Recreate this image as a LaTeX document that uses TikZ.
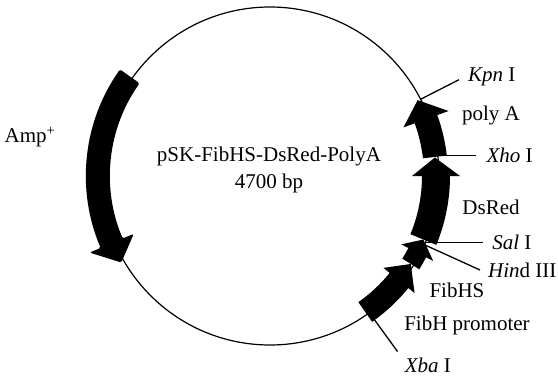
\documentclass[tikz,border=0pt]{standalone}
\usepackage{fontspec}
\setmainfont{Liberation Serif}
\usepackage{tikz}
\usetikzlibrary{calc}
\usetikzlibrary{positioning}

\begin{document}
\begin{tikzpicture}[x=1pt, y=1pt,
	lbl/.style={font=\fontsize{21}{27}\selectfont, inner sep=0pt},
	site/.style={line width=1.3pt},
	gene/.style={fill=black}]

\useasboundingbox (0,0) rectangle (558,376);

%%\draw[step=10, gray, very thin] (0,0) grid (558,376);

\node at (270,200) [circle, draw=black, line width=1.2pt, minimum size=338pt, inner sep=0pt] (plasmid) {};
\node at (269,206) [lbl, align=center] (name) {pSK-FibHS-DsRed-PolyA\\4700 bp};

\node at (30,239) [lbl] (amp) {Amp\textsuperscript{+}};
\node at (491,261) [lbl] (polya) {poly A};
\node at (491,169) [lbl] (dsred) {DsRed};
\node at (457,86) [lbl] (fibhs) {FibHS};
\node at (467,51) [lbl] (fibh) {FibH promoter};

% restriction sites
\coordinate (kpnend) at ($(plasmid.center)+(27:212)$);
\coordinate (xbaend) at ($(plasmid.center)+(-54:217)$);
\coordinate (hindend) at (480,106);
\draw [site] (plasmid.27) -- (kpnend);
\draw [site] (plasmid.7) -- ++(38,0) coordinate (xhoend);
\draw [site] (plasmid.-23) -- ++(57,0) coordinate (salend);
\draw [site] (plasmid.-24) -- (hindend);
\draw [site] (plasmid.-54) -- (xbaend);

\node [lbl, right=9pt of kpnend, yshift=3pt] (kpn) {\textit{Kpn} I};
\node [lbl, right=10pt of xhoend] (xho) {\textit{Xho} I};
\node [lbl, right=9pt of salend] (sal) {\textit{Sal} I};
\node [lbl, right=8pt of hindend] (hind) {\textit{Hin}d III};
\node [lbl, below right=6pt and 7pt of xbaend] (xba) {\textit{Xba} I};

% genes
\begin{scope}[shift={(plasmid.center)}]
	\fill [gene, rounded corners=1.5pt] (144.6:184) arc[start angle=144.6, end angle=203, radius=184pt] -- (203:196) -- (210.2:172) -- (203:148) -- (203:160) arc[start angle=203, end angle=144.6, radius=160pt] -- cycle;
	\fill [gene] (-55:178) arc[start angle=-55, end angle=-39, radius=178pt] -- (-39:186) -- (-32:166) -- (-39:146) -- (-39:154) arc[start angle=-39, end angle=-55, radius=154pt] -- cycle;
	\fill [gene] (-32:176) arc[start angle=-32, end angle=-27.5, radius=176pt] -- (-27.5:184) -- (-22.5:166) -- (-27.5:148) -- (-27.5:156) arc[start angle=-27.5, end angle=-32, radius=156pt] -- cycle;
	\fill [gene] (-22.5:180) arc[start angle=-22.5, end angle=0, radius=180pt] -- (0:190) -- (6.4:166) -- (0:142) -- (0:152) arc[start angle=0, end angle=-22.5, radius=152pt] -- cycle;
	\fill [gene] (6.6:178) arc[start angle=6.6, end angle=20, radius=178pt] -- (20:190) -- (27.2:166) -- (20:142) -- (20:154) arc[start angle=20, end angle=6.6, radius=154pt] -- cycle;
\end{scope}

\end{tikzpicture}
\end{document}
